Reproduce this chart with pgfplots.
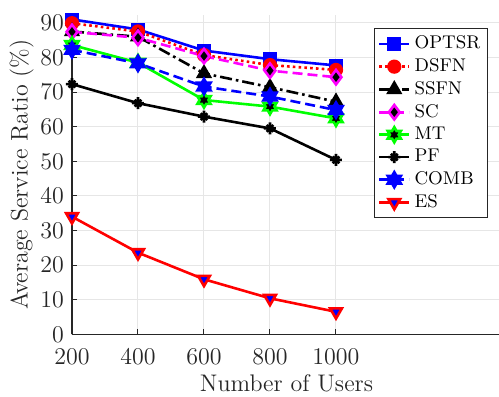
\documentclass[border=0pt]{standalone}
\usepackage{pgfplots}
\pgfplotsset{compat=1.18}
\definecolor{axgray}{RGB}{38,38,38}
\definecolor{gridgray}{RGB}{230,230,230}
\definecolor{mag}{RGB}{255,0,255}
\definecolor{grn}{RGB}{0,255,0}
\pgfdeclareplotmark{hexagram}{%
 \pgfpathmoveto{\pgfpointpolar{90}{\pgfplotmarksize}}%
 \pgfpathlineto{\pgfpointpolar{120}{0.577\pgfplotmarksize}}%
 \pgfpathlineto{\pgfpointpolar{150}{\pgfplotmarksize}}%
 \pgfpathlineto{\pgfpointpolar{180}{0.577\pgfplotmarksize}}%
 \pgfpathlineto{\pgfpointpolar{210}{\pgfplotmarksize}}%
 \pgfpathlineto{\pgfpointpolar{240}{0.577\pgfplotmarksize}}%
 \pgfpathlineto{\pgfpointpolar{270}{\pgfplotmarksize}}%
 \pgfpathlineto{\pgfpointpolar{300}{0.577\pgfplotmarksize}}%
 \pgfpathlineto{\pgfpointpolar{330}{\pgfplotmarksize}}%
 \pgfpathlineto{\pgfpointpolar{0}{0.577\pgfplotmarksize}}%
 \pgfpathlineto{\pgfpointpolar{30}{\pgfplotmarksize}}%
 \pgfpathlineto{\pgfpointpolar{60}{0.577\pgfplotmarksize}}%
 \pgfpathclose
 \pgfusepathqfillstroke}
\pgfdeclareplotmark{mstar}{%
 \pgfpathmoveto{\pgfqpoint{-\pgfplotmarksize}{0pt}}\pgfpathlineto{\pgfqpoint{\pgfplotmarksize}{0pt}}%
 \pgfpathmoveto{\pgfqpoint{0pt}{-\pgfplotmarksize}}\pgfpathlineto{\pgfqpoint{0pt}{\pgfplotmarksize}}%
 \pgfpathmoveto{\pgfpointpolar{45}{0.8\pgfplotmarksize}}\pgfpathlineto{\pgfpointpolar{225}{0.8\pgfplotmarksize}}%
 \pgfpathmoveto{\pgfpointpolar{135}{0.8\pgfplotmarksize}}\pgfpathlineto{\pgfpointpolar{315}{0.8\pgfplotmarksize}}%
 \pgfusepathqstroke}
\begin{document}
\begin{tikzpicture}
\path[use as bounding box] (-36pt,-31.35pt) rectangle (213.5pt,167.15pt);
\begin{axis}[
  scale only axis,
  width=214.5pt, height=159.7pt,
  xmin=200, xmax=1500, ymin=0, ymax=92.3,
  xtick={200,400,600,800,1000},
  ytick={0,10,...,90},
  axis x line*=bottom, axis y line*=left,
  axis line style={-, draw=axgray, line width=0.6pt},
  tick style={draw=axgray, line width=0.5pt},
  tick align=inside, major tick length=2.5pt,
  grid=major,
  major grid style={draw=gridgray, line width=0.5pt},
  ticklabel style={font=\fontsize{11.8}{13}\selectfont, text=axgray},
  xticklabel style={yshift=-4pt, /pgf/number format/1000 sep={}},
  yticklabel style={xshift=-0.5pt},
  label style={font=\fontsize{12}{14}\selectfont, text=axgray},
  xlabel={Number of Users},
  ylabel={Average Service Ratio (\%)},
  xlabel style={yshift=2pt},
  ylabel style={yshift=-3.5pt},
  legend style={at={(0.97,0.959)}, anchor=north east, draw=axgray, line width=0.5pt,
    font=\fontsize{9.2}{10}\selectfont, row sep=-0.6pt, inner sep=1.7pt, fill=white},
  legend cell align=left,
  legend image code/.code={%
    \draw[mark repeat=2,mark phase=2] plot coordinates {(0pt,0pt) (7.5pt,0pt) (15pt,0pt)};},
  every axis plot/.append style={line width=1.3pt},
]
\addplot[blue, mark=square*, mark size=2.8pt, mark options={solid, fill=blue}]
  coordinates {(200,91.0) (400,88.1) (600,82.0) (800,79.5) (1000,77.7)};
\addlegendentry{OPTSR}
\addplot[red, dash pattern=on 1.3pt off 1.6pt, mark=*, mark size=2.9pt, mark options={solid, fill=red}]
  coordinates {(200,89.9) (400,87.5) (600,80.7) (800,77.8) (1000,76.4)};
\addlegendentry{DSFN}
\addplot[black, dash pattern=on 6pt off 2pt on 1.3pt off 2pt, mark=triangle*, mark size=3.4pt, mark options={solid, fill=black}]
  coordinates {(200,87.5) (400,86.0) (600,75.4) (800,71.4) (1000,67.2)};
\addlegendentry{SSFN}
\addplot[mag, dash pattern=on 5pt off 2.5pt, mark=diamond*, mark size=3.6pt, mark options={solid, fill=black}]
  coordinates {(200,87.4) (400,85.7) (600,80.4) (800,76.2) (1000,74.3)};
\addlegendentry{SC}
\addplot[grn, mark=hexagram, mark size=3.8pt, mark options={solid, fill=black}]
  coordinates {(200,83.6) (400,78.5) (600,67.7) (800,65.8) (1000,62.4)};
\addlegendentry{MT}
\addplot[black, mark=mstar, mark size=3pt, mark options={solid}]
  coordinates {(200,72.3) (400,66.8) (600,62.9) (800,59.5) (1000,50.4)};
\addlegendentry{PF}
\addplot[blue, dash pattern=on 5pt off 2.5pt, mark=hexagram, mark size=3.8pt, mark options={solid, fill=blue}]
  coordinates {(200,82.2) (400,78.3) (600,71.6) (800,68.7) (1000,64.8)};
\addlegendentry{COMB}
\addplot[red, mark=triangle*, mark size=3.4pt, mark options={solid, fill=blue, rotate=180}]
  coordinates {(200,34.0) (400,23.6) (600,15.9) (800,10.4) (1000,6.5)};
\addlegendentry{ES}
\end{axis}
\end{tikzpicture}
\end{document}
